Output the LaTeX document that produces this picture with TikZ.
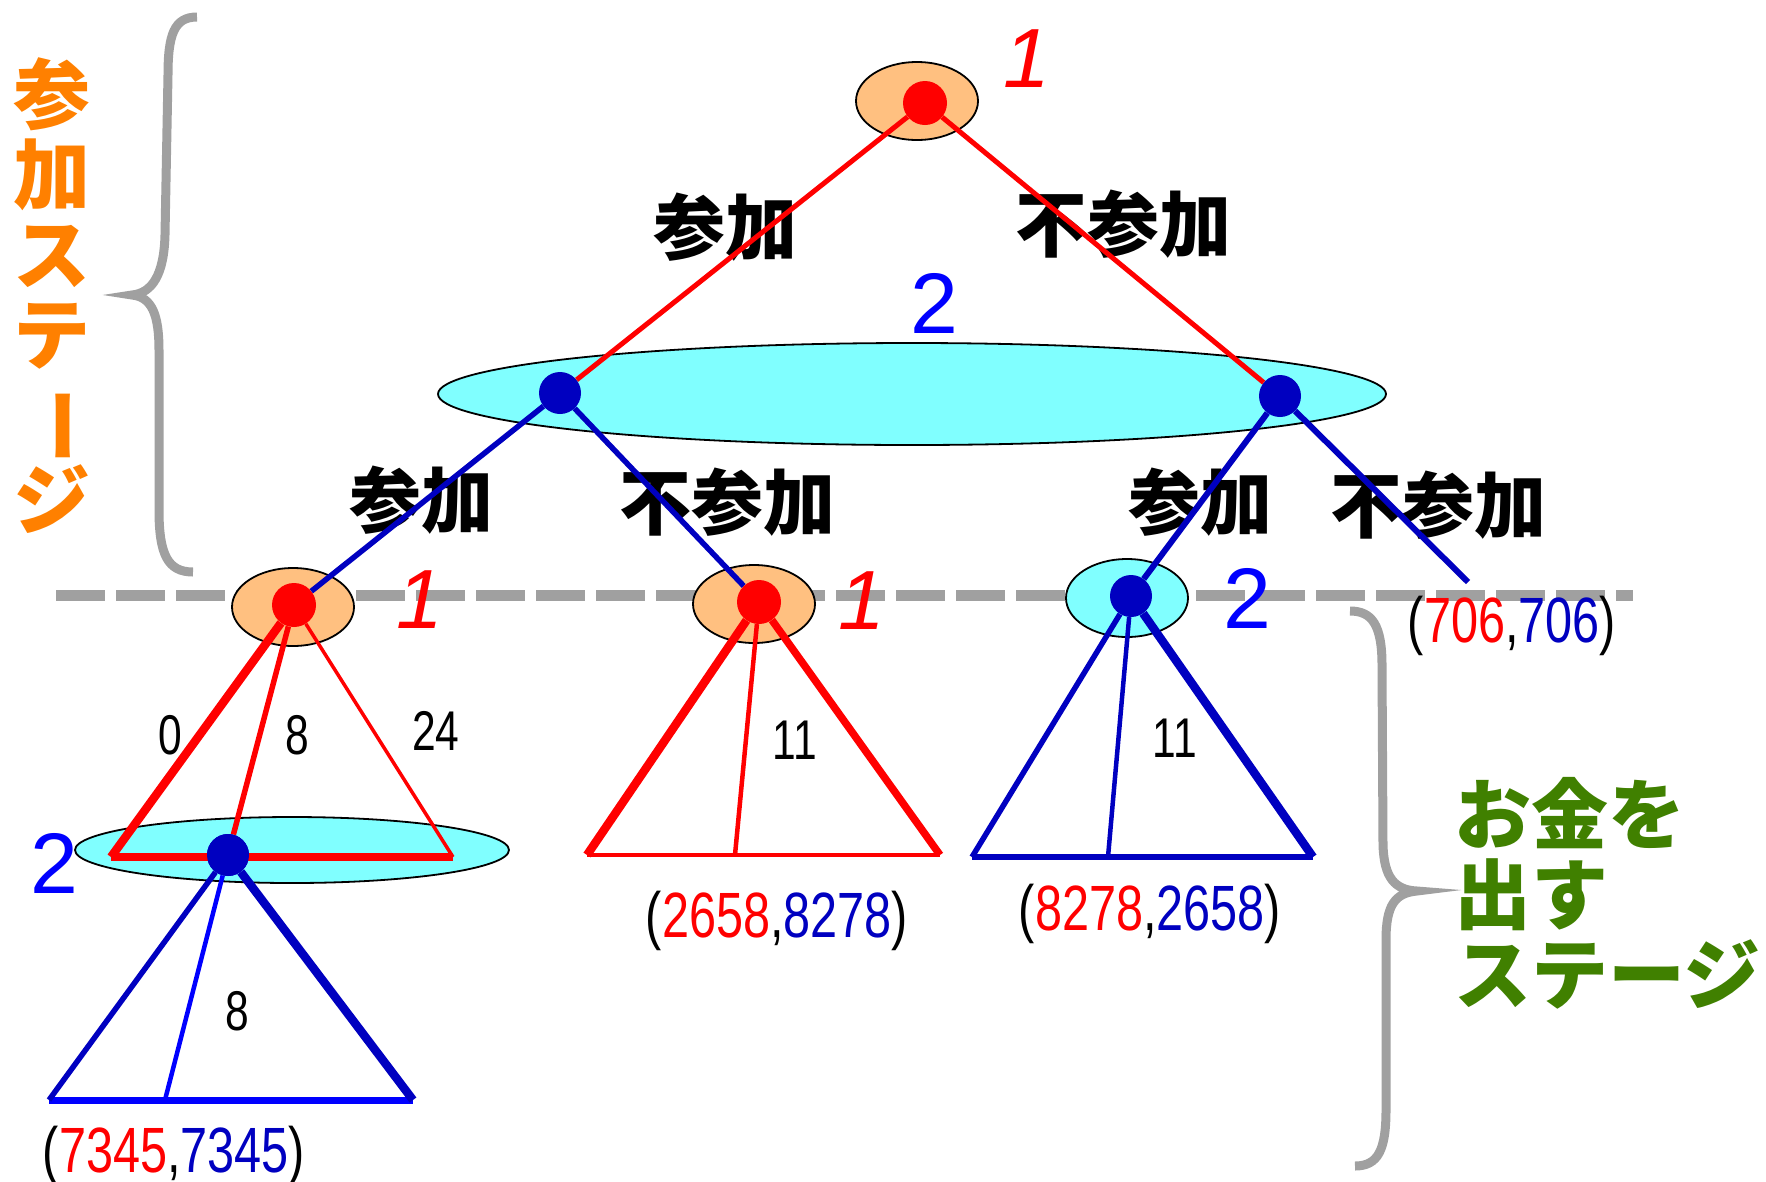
\documentclass[tikz,border=0pt]{standalone}
\usepackage{fontspec}
\usepackage{graphicx}
\usetikzlibrary{shapes.geometric}
\newfontfamily\jpfont{Noto Sans CJK JP}
\newfontfamily\narrowfont[FakeStretch=0.76]{Liberation Sans}
\newfontfamily\arialfont{Liberation Sans}
\definecolor{rd}{HTML}{FF0000}
\definecolor{db}{HTML}{0000C0}
\definecolor{bl}{HTML}{0000FF}
\definecolor{orfill}{HTML}{FFC080}
\definecolor{cyfill}{HTML}{80FFFF}
\definecolor{gr}{HTML}{A0A0A0}
\definecolor{ortext}{HTML}{FF8000}
\definecolor{grtext}{HTML}{408000}
\begin{document}
\begin{tikzpicture}[x=1pt,y=-1pt,
  p1set/.style={ellipse, draw=black, line width=1.8pt, fill=orfill, minimum width=122pt, minimum height=78pt, inner sep=0pt},
  p2set/.style={ellipse, draw=black, line width=1.8pt, fill=cyfill, minimum width=122pt, minimum height=78pt, inner sep=0pt},
  reddot/.style={circle, fill=rd, minimum size=44pt, inner sep=0pt},
  bluedot/.style={circle, fill=db, minimum size=42pt, inner sep=0pt},
  redline/.style={draw=rd, line width=5pt},
  blueline/.style={draw=db, line width=5.5pt},
  edgelbl/.style={font=\jpfont\bfseries\fontsize{72}{72}\selectfont, inner sep=0pt},
  ponelbl/.style={text=rd, font=\arialfont\itshape\fontsize{84}{84}\selectfont, inner sep=0pt},
  ptwolbl/.style={text=bl, font=\arialfont\fontsize{86}{86}\selectfont, inner sep=0pt},
  numlbl/.style={font=\narrowfont\fontsize{56}{56}\selectfont, inner sep=0pt},
  payoff/.style={font=\narrowfont\fontsize{64}{64}\selectfont, inner sep=0pt, anchor=base},
  bracestyle/.style={draw=gr, line width=9pt},
  stagelbl/.style={font=\jpfont\bfseries\fontsize{77}{80}\selectfont, inner sep=0pt}
]
\useasboundingbox (0,0) rectangle (1766,1181);

% stage separator
\coordinate (dl) at (56,595);
\coordinate (dr) at (1633,595);
\draw[gr, line width=11pt, dash pattern=on 49pt off 11pt] (dl) -- (dr);

% braces
\draw[bracestyle] (197,17) .. controls (174,17) and (168,35) .. (168,75) -- (165,235)
  .. controls (164,275) and (152,293) .. (132,295)
  .. controls (152,297) and (159,315) .. (159,350) -- (159,510)
  .. controls (159,555) and (168,572) .. (193,572);
\draw[bracestyle] (1350,611) .. controls (1372,611) and (1382,625) .. (1382,665) -- (1383,845)
  .. controls (1384,878) and (1395,890) .. (1417,891)
  .. controls (1395,893) and (1386,905) .. (1386,940) -- (1386,1110)
  .. controls (1386,1150) and (1378,1166) .. (1355,1166);

% stage texts
\node[stagelbl, text=ortext, align=center] (stageA) at (52,296)
  {参\\加\\ス\\テ\\\rotatebox[origin=c]{-90}{ー}\\ジ};
\node[stagelbl, text=grtext, align=left, anchor=west] (stageB) at (1454,893)
  {お金を\\出す\\ステージ};

% edge labels
\node[edgelbl] (la) at (725,227) {参加};
\node[edgelbl] (lb) at (1123,224) {不参加};
\node[edgelbl] (lc) at (421,500) {参加};
\node[edgelbl] (ld) at (727,502) {不参加};
\node[edgelbl] (le) at (1200,502) {参加};
\node[edgelbl] (lf) at (1438,505) {不参加};

% information sets
\node[p1set] (s1) at (917,101) {};
\node[p2set, minimum width=948pt, minimum height=102pt] (s2) at (912,394) {};
\node[p1set] (s3) at (293,607) {};
\node[p1set] (s4) at (754,604) {};
\node[p2set] (s5) at (1127,598) {};
\node[p2set, minimum width=434pt, minimum height=66pt] (s6) at (292,850) {};

% player labels
\node[ponelbl] (q1) at (1027,59) {1};
\node[ptwolbl] (q2) at (934,303) {2};
\node[ponelbl] (q3) at (420,600) {1};
\node[ponelbl] (q4) at (862,601) {1};
\node[ptwolbl] (q5) at (1247,598) {2};
\node[ptwolbl] (q6) at (54,863) {2};

% decision nodes
\node[reddot] (n1) at (925,103) {};
\node[bluedot] (n2) at (560,393) {};
\node[bluedot] (n3) at (1280,396) {};
\node[reddot] (n4) at (294,605) {};
\node[reddot] (n5) at (759,602) {};
\node[bluedot] (n6) at (1131,596) {};
\node[bluedot] (n7) at (228,855) {};
\coordinate (e1) at (1468,582);

% triangle corners
\coordinate (a1) at (111,857);
\coordinate (a2) at (453,857);
\coordinate (b1) at (49,1100);
\coordinate (b2) at (413,1100);
\coordinate (b3) at (165,1100);
\coordinate (c1) at (587,855);
\coordinate (c2) at (940,855);
\coordinate (c3) at (735,855);
\coordinate (d1) at (972,857);
\coordinate (d2) at (1313,857);
\coordinate (d3) at (1108,857);

% top edges
\draw[redline] (n1) -- (n2);
\draw[redline] (n1) -- (n3);
\draw[blueline] (n2) -- (n4);
\draw[blueline] (n2) -- (n5);
\draw[blueline, line width=6pt] (n3) -- (n6);
\draw[blueline, line width=6pt] (n3) -- (e1);

% lower-left red triangle
\draw[rd, line width=8pt] (a1) -- (a2);
\draw[rd, line width=8.5pt] (n4) -- (a1);
\draw[rd, line width=5.5pt] (n4) -- (n7);
\draw[rd, line width=3.5pt] (n4) -- (a2);
\node[bluedot] (n7b) at (n7) {};
% lower-left blue triangle
\draw[bl, line width=7pt] (b1) -- (b2);
\draw[db, line width=5.5pt] (n7) -- (b1);
\draw[bl, line width=4.5pt] (n7) -- (b3);
\draw[db, line width=8.5pt] (n7) -- (b2);
% middle red triangle
\draw[rd, line width=4.5pt] (c1) -- (c2);
\draw[rd, line width=8.5pt] (n5) -- (c1);
\draw[rd, line width=4.5pt] (n5) -- (c3);
\draw[rd, line width=7.5pt] (n5) -- (c2);
% right blue triangle
\draw[db, line width=5.5pt] (d1) -- (d2);
\draw[db, line width=5.5pt] (n6) -- (d1);
\draw[db, line width=4.5pt] (n6) -- (d3);
\draw[db, line width=8.5pt] (n6) -- (d2);

% numbers
\node[numlbl] (v1) at (170,735) {0};
\node[numlbl] (v2) at (297,735) {8};
\node[numlbl] (v3) at (436,731) {24};
\node[numlbl] (v4) at (237,1011) {8};
\node[numlbl] (v5) at (795,740) {11};
\node[numlbl] (v6) at (1175,738) {11};

% payoffs
\node[payoff] (w1) at (174,1172) {(\textcolor{rd}{7345},\textcolor{db}{7345})};
\node[payoff] (w2) at (777,937) {(\textcolor{rd}{2658},\textcolor{db}{8278})};
\node[payoff] (w3) at (1150,930) {(\textcolor{rd}{8278},\textcolor{db}{2658})};
\node[payoff] (w4) at (1512,642) {(\textcolor{rd}{706},\textcolor{db}{706})};
\end{tikzpicture}
\end{document}
